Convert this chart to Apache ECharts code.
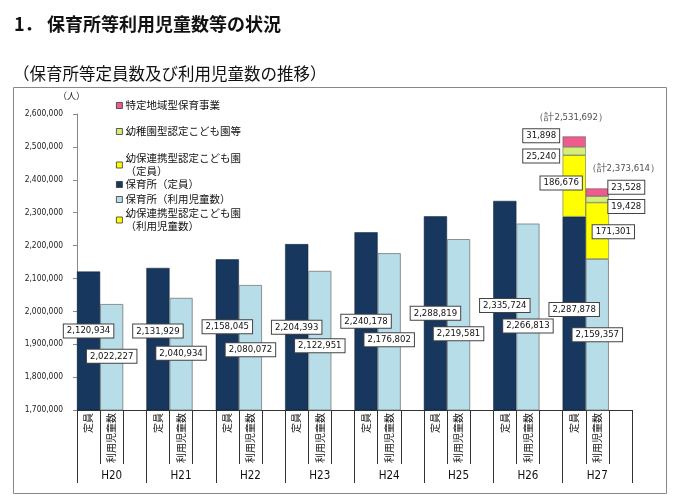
<!DOCTYPE html>
<html><head><meta charset="utf-8">
<script src="https://cdn.jsdelivr.net/npm/echarts@6/dist/echarts.min.js"></script>
<style>html,body{margin:0;padding:0;background:#fff}#c{width:679px;height:502px}</style>
</head><body><div id="c"></div>
<script>
// ---- data ----
const years = ['H20','H21','H22','H23','H24','H25','H26','H27'];
const slotLabels = ['定員','利用児童数'];
const hoikuTeiin = [2120934, 2131929, 2158045, 2204393, 2240178, 2288819, 2335724, 2287878];
const hoikuRiyo  = [2022227, 2040934, 2080072, 2122951, 2176802, 2219581, 2266813, 2159357];
const youhoTeiin = [null, null, null, null, null, null, null, 186676];
const youhoRiyo  = [null, null, null, null, null, null, null, 171301];
const youchienTeiin = [null, null, null, null, null, null, null, 25240];
const youchienRiyo  = [null, null, null, null, null, null, null, 19428];
const tokuteiTeiin = [null, null, null, null, null, null, null, 31898];
const tokuteiRiyo  = [null, null, null, null, null, null, null, 23528];
const yMin = 1700000, yMax = 2600000, yStep = 100000;

// label nudges (layout only, px)
const nudgeTeiin = [-10, -8, -8, 0, 0, 0, 0, -4];
const nudgeRiyo  = [-1, -1, 2, 5, 8, 9, 9, 0];

const names = {
  tokutei: '特定地域型保育事業',
  youchien: '幼稚園型認定こども園等',
  youhoT: '幼保連携型認定こども園\n（定員）',
  hoikuT: '保育所（定員）',
  hoikuR: '保育所（利用児童数）',
  youhoR: '幼保連携型認定こども園\n（利用児童数）'
};
const colors = {
  tokutei: '#EE5C8C', youchien: '#D3EF7A', youho: '#FFFF00', navy: '#17375E', light: '#B7DDE8'
};

// slot axis: for each year -> [定員, 利用児童数, gap]
const slotCats = [];
years.forEach(() => { slotCats.push(slotLabels[0], slotLabels[1], ''); });
function slots(a0, a1) {
  const out = [];
  for (let i = 0; i < years.length; i++) {
    out.push(a0 && a0[i] != null ? a0[i] : '-');
    out.push(a1 && a1[i] != null ? a1[i] : '-');
    out.push('-');
  }
  return out;
}
const fmt = v => Number(v).toLocaleString('en-US');
const numFont = "'DejaVu Sans Condensed','DejaVu Sans',sans-serif";
const cjk = "'Noto Sans CJK JP','Noto Sans',sans-serif";
const boxLabel = {
  show: true, position: 'inside', formatter: p => fmt(p.value),
  backgroundColor: '#fff', borderColor: '#444', borderWidth: 1,
  padding: [2, 3, 1, 3], fontSize: 9.5, fontFamily: numFont, color: '#111'
};
// label offsets for the stacked H27 segments
function withOffsets(arr, offs) {
  return arr.map((v, i) => {
    if (v === '-') return v;
    const o = offs[i % 3];
    return o ? { value: v, label: { offset: o } } : v;
  });
}
function withNudge(arr, nudges) {
  return arr.map((v, i) => v === '-' ? v : { value: v, label: { offset: [0, nudges[Math.floor(i / 3)]] } });
}

const totalTeiin = hoikuTeiin[7] + youhoTeiin[7] + youchienTeiin[7] + tokuteiTeiin[7];
const totalRiyo = hoikuRiyo[7] + youhoRiyo[7] + youchienRiyo[7] + tokuteiRiyo[7];
const totals = slots([null,null,null,null,null,null,null,totalTeiin], [null,null,null,null,null,null,null,totalRiyo]);

const barBase = { type: 'bar', stack: 'a', barWidth: '100%', xAxisIndex: 0, yAxisIndex: 0 };

const option = {
  animation: false,
  backgroundColor: '#fff',
  grid: { left: 77, right: 47, top: 114, bottom: 92 },
  legend: [
    ['tokutei', 99], ['youchien', 125], ['youhoT', 152], ['hoikuT', 178], ['hoikuR', 193], ['youhoR', 207]
  ].map(([k, top]) => ({
    data: [names[k]], left: 116, top: top, padding: 0, itemWidth: 6, itemHeight: 6, icon: 'rect',
    itemGap: 0,
    itemStyle: { borderColor: '#333', borderWidth: 0.8 },
    textStyle: { fontSize: 10.5, fontFamily: cjk, color: '#111', lineHeight: 13, padding: [0,0,0,-2] }
  })),
  xAxis: [
    {
      type: 'category', data: slotCats, position: 'bottom',
      axisLine: { show: true, lineStyle: { color: '#333', width: 1 } },
      axisTick: { show: true, length: 54, interval: i => i % 3 !== 0, lineStyle: { color: '#333' } },
      axisLabel: { interval: 0, rotate: 90, margin: 3, fontSize: 10, fontFamily: cjk, color: '#111' }
    },
    {
      type: 'category', data: years, position: 'bottom',
      axisLine: { show: true, lineStyle: { color: '#333', width: 1 } },
      axisTick: { show: true, length: 73, interval: 0, lineStyle: { color: '#333' } },
      axisLabel: { interval: 0, margin: 60, fontSize: 11.5, fontFamily: numFont, color: '#111' }
    }
  ],
  yAxis: {
    type: 'value', min: yMin, max: yMax, interval: yStep,
    axisLine: { show: true, lineStyle: { color: '#888' } },
    axisTick: { show: true, length: 4, lineStyle: { color: '#888' } },
    splitLine: { show: false },
    axisLabel: { formatter: v => fmt(v), fontSize: 8.4, fontFamily: numFont, color: '#222', margin: 14 }
  },
  series: [
    Object.assign({}, barBase, {
      name: names.hoikuT, data: withNudge(slots(hoikuTeiin, null), nudgeTeiin),
      itemStyle: { color: colors.navy, borderColor: '#0d1f36', borderWidth: 0.5 },
      label: boxLabel
    }),
    Object.assign({}, barBase, {
      name: names.hoikuR, data: withNudge(slots(null, hoikuRiyo), nudgeRiyo),
      itemStyle: { color: colors.light, borderColor: '#777', borderWidth: 0.8 },
      label: boxLabel
    }),
    Object.assign({}, barBase, {
      name: names.youhoT, data: withOffsets(slots(youhoTeiin, null), [[-13, -3]]),
      itemStyle: { color: colors.youho, borderColor: '#555', borderWidth: 0.5 },
      label: boxLabel
    }),
    Object.assign({}, barBase, {
      name: names.youhoR, data: withOffsets(slots(null, youhoRiyo), [null, [16, 1]]),
      itemStyle: { color: colors.youho, borderColor: '#555', borderWidth: 0.5 },
      label: boxLabel
    }),
    Object.assign({}, barBase, {
      name: names.youchien, data: withOffsets(slots(youchienTeiin, youchienRiyo), [[-33, 5], [29, 7]]),
      itemStyle: { color: colors.youchien, borderColor: '#555', borderWidth: 0.5 },
      label: boxLabel
    }),
    Object.assign({}, barBase, {
      name: names.tokutei, data: withOffsets(slots(tokuteiTeiin, tokuteiRiyo), [[-33, -6], [29, -5]]),
      itemStyle: { color: colors.tokutei, borderColor: '#555', borderWidth: 0.5 },
      label: boxLabel
    }),
    {
      type: 'scatter', name: 'total', xAxisIndex: 0, yAxisIndex: 0, symbolSize: 0,
      data: totals.map((v, i) => v === '-' ? v : { value: v, label: { offset: i % 3 === 0 ? [-3, -14] : [26, -15] } }),
      label: { show: true, position: 'top', distance: 0, formatter: p => '（計' + fmt(p.value) + '）',
               fontSize: 9.5, fontFamily: numFont, color: '#222' },
      z: 5
    }
  ],
  graphic: [
    { type: 'rect', shape: { x: 13.5, y: 87.5, width: 653, height: 406 }, style: { fill: 'none', stroke: '#888', lineWidth: 1 }, silent: true },
    { type: 'text', left: 14, top: 15, style: { text: '1．', fontSize: 18, fontWeight: 'bold', fontFamily: cjk, fill: '#111' } },
    { type: 'text', left: 47, top: 15, style: { text: '保育所等利用児童数等の状況', fontSize: 18, fontWeight: 'bold', fontFamily: cjk, fill: '#111' } },
    { type: 'text', left: 13, top: 65, style: { text: '（保育所等定員数及び利用児童数の推移）', fontSize: 16.5, fontFamily: cjk, fill: '#111' } },
    { type: 'text', left: 58, top: 91, style: { text: '（人）', fontSize: 9, fontFamily: cjk, fill: '#222' } }
  ]
};
const chart = echarts.init(document.getElementById('c'), null, { renderer: 'canvas' });
chart.setOption(option);
</script></body></html>
